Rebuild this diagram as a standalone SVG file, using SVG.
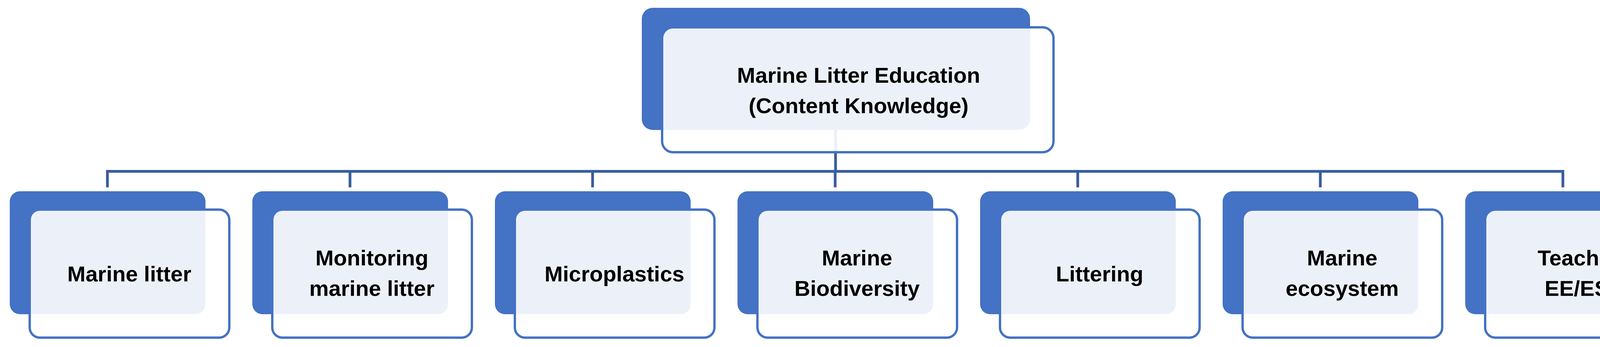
<svg xmlns="http://www.w3.org/2000/svg" width="4339" height="889" viewBox="0 0 4339 889">
<style>
.back{fill:#4472C4}
.front{fill:#fff;fill-opacity:0.9;stroke:#4472C4;stroke-width:6}
.conn{fill:none;stroke:#365C9E;stroke-width:7}
text{font-family:"Liberation Sans",Arial,sans-serif;font-weight:bold;font-size:56px;fill:#000;text-anchor:middle}
</style>
<rect width="4339" height="889" fill="#fff"/>
<g id="connectors">
<path class="conn" d="M2139 330V439M275 480V439H4001V480M896 439V480M1517 439V480M2138 439V480M2759 439V480M3380 439V480"/>
</g>
<g id="root">
<rect class="back" x="1643" y="20" width="994" height="313" rx="28"/>
<rect class="front" x="1695" y="70" width="1002" height="320" rx="28"/>
<text x="2198" y="212" font-size="62">Marine Litter Education</text>
<text x="2198" y="290" font-size="62">(Content Knowledge)</text>
</g>
<g id="n1"><rect class="back" x="25" y="490" width="501" height="315" rx="26"/><rect class="front" x="76" y="537" width="511" height="328" rx="26"/><text x="331" y="721">Marine litter</text></g>
<g id="n2"><rect class="back" x="646" y="490" width="501" height="315" rx="26"/><rect class="front" x="697" y="537" width="511" height="328" rx="26"/><text x="952" y="680">Monitoring</text><text x="952" y="758">marine litter</text></g>
<g id="n3"><rect class="back" x="1267" y="490" width="501" height="315" rx="26"/><rect class="front" x="1318" y="537" width="511" height="328" rx="26"/><text x="1573" y="721">Microplastics</text></g>
<g id="n4"><rect class="back" x="1888" y="490" width="501" height="315" rx="26"/><rect class="front" x="1939" y="537" width="511" height="328" rx="26"/><text x="2194" y="680">Marine</text><text x="2194" y="758">Biodiversity</text></g>
<g id="n5"><rect class="back" x="2509" y="490" width="501" height="315" rx="26"/><rect class="front" x="2560" y="537" width="511" height="328" rx="26"/><text x="2815" y="721">Littering</text></g>
<g id="n6"><rect class="back" x="3130" y="490" width="501" height="315" rx="26"/><rect class="front" x="3181" y="537" width="511" height="328" rx="26"/><text x="3436" y="680">Marine</text><text x="3436" y="758">ecosystem</text></g>
<g id="n7"><rect class="back" x="3751" y="490" width="501" height="315" rx="26"/><rect class="front" x="3802" y="537" width="511" height="328" rx="26"/><text x="4057" y="680">Teaching</text><text x="4057" y="758">EE/ESD</text></g>
</svg>
